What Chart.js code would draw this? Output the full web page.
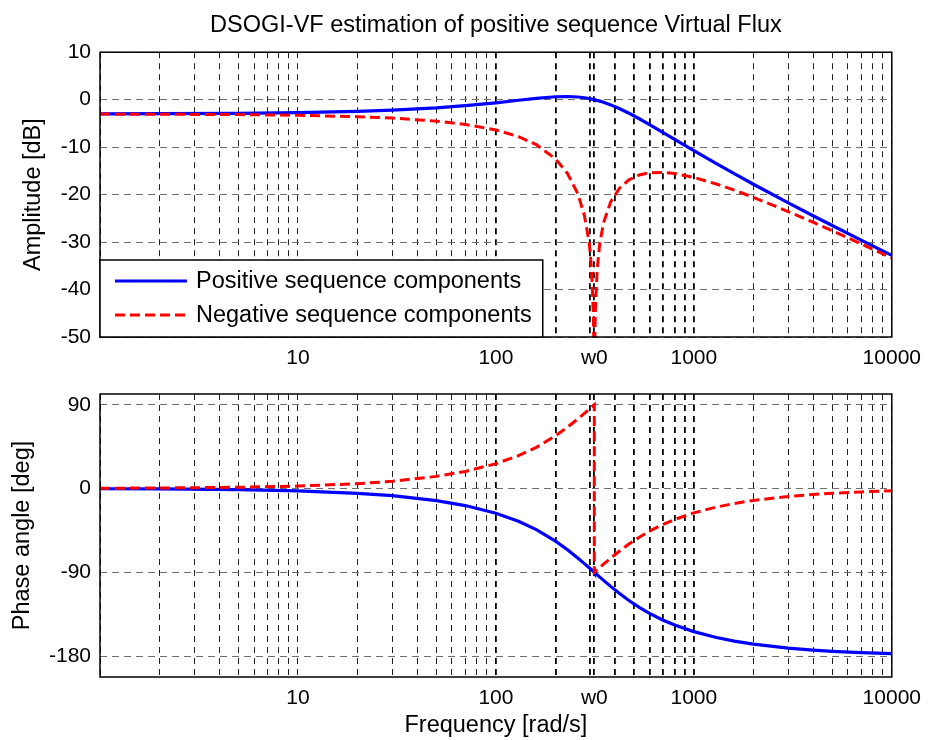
<!DOCTYPE html>
<html>
<head>
<meta charset="utf-8">
<script src="https://cdn.jsdelivr.net/npm/chart.js@4.4.1/dist/chart.umd.min.js"></script>
<style>
  body { margin: 0; background: #fff; }
  #wrap { position: relative; width: 930px; height: 740px; }
  #mag { position: absolute; left: 0; top: 0; }
  #phase { position: absolute; left: 0; top: 372px; }
</style>
</head>
<body>
<div id="wrap">
  <canvas id="mag" width="930" height="372"></canvas>
  <canvas id="phase" width="930" height="368"></canvas>
</div>
<script>
// Bode plot of the DSOGI-VF positive / negative sequence estimators.
// Values.

const W0 = 314.16;

const FREQ = [1, 2, 5, 10, 20, 30, 50, 70, 100, 130, 160, 200, 230, 260, 280, 295, 300, 305, 311, 313,
  W0, W0, 316, 318, 325, 335, 350, 380, 420, 470, 530, 600, 700, 800, 1000, 1300, 1600, 2000, 3000,
  4000, 5000, 7000, 10000];

const MAG_POS = [-2.98, -2.96, -2.87, -2.74, -2.47, -2.22, -1.73, -1.27, -0.66, -0.13, 0.28, 0.61, 0.67, 0.56,
  0.40, 0.24, 0.18, 0.12, 0.04, 0.02, 0.00, 0.00, -0.03, -0.05, -0.16, -0.31, -0.56, -1.10, -1.86, -2.85,
  -4.02, -5.29, -6.92, -8.35, -10.74, -13.48, -15.60, -17.82, -21.75, -24.45, -26.52, -29.59, -32.80];

const MAG_NEG = [-3.04, -3.07, -3.15, -3.29, -3.58, -3.88, -4.52, -5.21, -6.38, -7.78, -9.48, -12.46, -15.55,
  -19.95, -24.41, -29.80, -32.56, -36.48, -45.88, -54.6, -80, -80, -50.72, -44.38, -35.57, -30.18, -25.92,
  -21.55, -18.69, -16.89, -15.86, -15.39, -15.32, -15.56, -16.38, -17.76, -19.06, -20.58, -23.57, -25.82,
  -27.61, -30.37, -33.35];

const PHASE_POS = [-0.26, -0.52, -1.29, -2.58, -5.17, -7.76, -13.0, -18.34, -26.61, -35.22, -44.2, -56.55,
  -65.87, -74.93, -80.73, -84.91, -86.27, -87.6, -89.18, -89.7, -90, -90, -90.47, -90.98, -92.75, -95.19,
  -98.7, -105.15, -112.6, -120.33, -127.73, -134.43, -141.52, -146.71, -153.76, -160.05, -163.89, -167.17,
  -171.48, -173.62, -174.9, -176.36, -177.45];

const PHASE_NEG = [0.26, 0.52, 1.29, 2.58, 5.17, 7.76, 13.0, 18.34, 26.61, 35.22, 44.2, 56.55, 65.87, 74.93,
  80.73, 84.91, 86.27, 87.6, 89.18, 89.7, 90, -90, -89.53, -89.02, -87.25, -84.81, -81.3, -74.85, -67.4,
  -59.67, -52.27, -45.57, -38.48, -33.29, -26.24, -19.95, -16.11, -12.83, -8.52, -6.38, -5.1, -3.64, -2.55];

const X_TICKS = [1, 2, 3, 4, 5, 6, 7, 8, 9, 10, 20, 30, 40, 50, 60, 70, 80, 90, 100, 200, 300, W0, 400, 500,
  600, 700, 800, 900, 1000, 2000, 3000, 4000, 5000, 6000, 7000, 8000, 9000, 10000];
const X_LABEL_VALUES = [10, 100, W0, 1000, 10000];
const X_LABEL_TEXT = ['10', '100', 'w0', '1000', '10000'];

const MAG_TICKS = [-50, -40, -30, -20, -10, 0, 10];
const PHASE_TICKS = [-180, -90, 0, 90];

const FONT = 'Liberation Sans, Arial, Helvetica, sans-serif';
const TICK_SIZE = 21;
const TEXT_SIZE = 23.5;

const COLORS = {
  pos: '#0000ff',
  neg: '#ff0000',
  hgrid: '#6e6e6e',
  vgrid: '#222222',
  text: '#000000',
};

const points = ys => FREQ.map((f, i) => ({ x: f, y: ys[i] }));

function datasets(posData, negData) {
  return [
    { label: 'Positive sequence components', data: points(posData), borderColor: COLORS.pos, borderWidth: 3.2, order: 1 },
    { label: 'Negative sequence components', data: points(negData), borderColor: COLORS.neg, borderWidth: 3, borderDash: [10, 5], order: 0 },
  ].map(d => ({ ...d, pointRadius: 0, tension: 0, fill: false }));
}

// plot frame on all four sides, like the MATLAB axes box
const frameBox = {
  id: 'frameBox',
  afterDatasetsDraw(chart) {
    const { ctx, chartArea: a } = chart;
    ctx.save();
    ctx.strokeStyle = '#000';
    ctx.lineWidth = 1.5;
    ctx.strokeRect(a.left, a.top, a.right - a.left, a.bottom - a.top);
    ctx.restore();
  },
};

// legend drawn inside the lower-left corner of the plot
const insetLegend = {
  id: 'insetLegend',
  afterDatasetsDraw(chart, args, opts) {
    if (!opts.display) return;
    const { ctx, chartArea: a } = chart;
    const sets = chart.data.datasets;
    ctx.save();
    ctx.font = `${TEXT_SIZE}px ${FONT}`;
    const textW = Math.max(...sets.map(d => ctx.measureText(d.label).width));
    const w = 96 + textW + 11, h = 77;
    const x = a.left, y = a.bottom - h;
    ctx.fillStyle = '#fff';
    ctx.fillRect(x, y, w, h);
    ctx.strokeStyle = '#000';
    ctx.lineWidth = 1.5;
    ctx.strokeRect(x, y, w, h);
    sets.forEach((d, i) => {
      const cy = y + 21 + i * 34;
      ctx.strokeStyle = d.borderColor;
      ctx.lineWidth = d.borderWidth;
      ctx.setLineDash(d.borderDash || []);
      ctx.beginPath();
      ctx.moveTo(x + 15, cy);
      ctx.lineTo(x + 87, cy);
      ctx.stroke();
      ctx.setLineDash([]);
      ctx.fillStyle = COLORS.text;
      ctx.textBaseline = 'middle';
      ctx.fillText(d.label, x + 96, cy + 1);
    });
    ctx.restore();
  },
};

function xScale(height, title) {
  return {
    type: 'logarithmic', min: 1, max: 10000,
    afterBuildTicks: s => { s.ticks = X_TICKS.map(v => ({ value: v })); },
    afterFit: s => { s.height = height; },
    ticks: {
      autoSkip: false, maxRotation: 0, padding: 9, color: COLORS.text,
      font: { family: FONT, size: TICK_SIZE },
      callback: v => {
        const i = X_LABEL_VALUES.indexOf(v);
        return i >= 0 ? X_LABEL_TEXT[i] : '';
      },
    },
    grid: {
      drawTicks: false,
      color: c => (c.tick && c.tick.value >= 100 && c.tick.value <= 1000 ? '#000' : COLORS.vgrid),
      lineWidth: c => (c.tick && c.tick.value >= 100 && c.tick.value <= 1000 ? 1.8 : 1),
    },
    border: { display: false, dash: [6, 5] },
    title: title
      ? { display: true, text: title, color: COLORS.text, font: { family: FONT, size: TEXT_SIZE }, padding: { top: 4, bottom: 0 } }
      : { display: false },
  };
}

function yScale(min, max, tickValues, title, titlePad) {
  return {
    min, max,
    afterBuildTicks: s => { s.ticks = tickValues.map(v => ({ value: v })); },
    afterFit: s => { s.width = 100; },
    ticks: { padding: 9, color: COLORS.text, font: { family: FONT, size: TICK_SIZE } },
    grid: { drawTicks: false, color: COLORS.hgrid, lineWidth: 1 },
    border: { display: false, dash: [7, 5] },
    title: { display: true, text: title, color: COLORS.text, font: { family: FONT, size: TEXT_SIZE }, padding: { top: titlePad, bottom: 0 } },
  };
}

const common = {
  responsive: false,
  animation: false,
  events: [],
};

new Chart(document.getElementById('mag'), {
  type: 'line',
  data: { datasets: datasets(MAG_POS, MAG_NEG) },
  plugins: [frameBox, insetLegend],
  options: {
    ...common,
    layout: { padding: { left: 0, right: 37, top: 0, bottom: 0 } },
    plugins: {
      legend: { display: false },
      tooltip: { enabled: false },
      insetLegend: { display: true },
      title: {
        display: true, fullSize: false, text: 'DSOGI-VF estimation of positive sequence Virtual Flux', color: COLORS.text,
        font: { family: FONT, size: TEXT_SIZE, weight: 'normal' }, padding: { top: 11, bottom: 13 },
      },
    },
    scales: {
      x: xScale(35, null),
      y: yScale(-50, 10, MAG_TICKS, 'Amplitude [dB]', 19),
    },
  },
});

new Chart(document.getElementById('phase'), {
  type: 'line',
  data: { datasets: datasets(PHASE_POS, PHASE_NEG) },
  plugins: [frameBox],
  options: {
    ...common,
    layout: { padding: { left: 0, right: 37, top: 22, bottom: 0 } },
    plugins: { legend: { display: false }, tooltip: { enabled: false } },
    scales: {
      x: xScale(63, 'Frequency [rad/s]'),
      y: yScale(-202.5, 101.5, PHASE_TICKS, 'Phase angle [deg]', 8),
    },
  },
});
</script>
</body>
</html>
